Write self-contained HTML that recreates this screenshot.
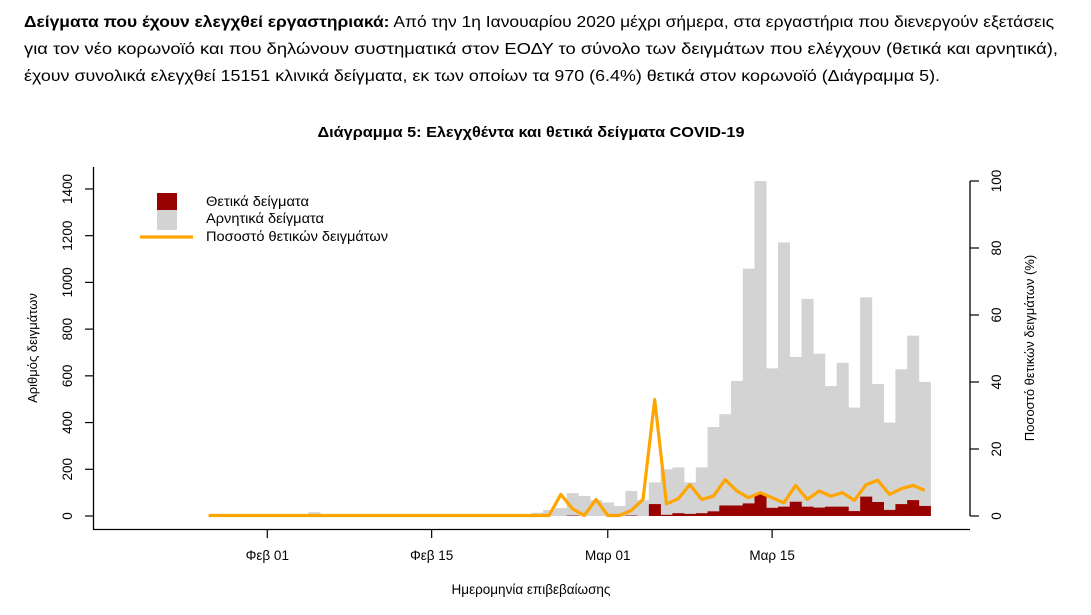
<!DOCTYPE html>
<html><head><meta charset="utf-8"><style>
html,body{margin:0;padding:0;background:#fff;}
svg{display:block;font-family:"Liberation Sans","DejaVu Sans",sans-serif;}
</style></head><body>
<svg id="s" width="1091" height="615" viewBox="0 0 1091 615" xmlns="http://www.w3.org/2000/svg">
<g font-size="16" fill="#000">
<text x="24" y="27" textLength="1030" lengthAdjust="spacingAndGlyphs"><tspan font-weight="bold">Δείγματα που έχουν ελεγχθεί εργαστηριακά:</tspan> Από την 1η Ιανουαρίου 2020 μέχρι σήμερα, στα εργαστήρια που διενεργούν εξετάσεις</text>
<text x="24" y="54" textLength="1034" lengthAdjust="spacingAndGlyphs">για τον νέο κορωνοϊό και που δηλώνουν συστηματικά στον ΕΟΔΥ το σύνολο των δειγμάτων που ελέγχουν (θετικά και αρνητικά),</text>
<text x="24" y="81" textLength="916" lengthAdjust="spacingAndGlyphs">έχουν συνολικά ελεγχθεί 15151 κλινικά δείγματα, εκ των οποίων τα 970 (6.4%) θετικά στον κορωνοϊό (Διάγραμμα 5).</text>
</g>
<text x="531" y="137" font-size="15" font-weight="bold" text-anchor="middle" textLength="427" lengthAdjust="spacingAndGlyphs">Διάγραμμα 5: Ελεγχθέντα και θετικά δείγματα COVID-19</text>
<g id="bars"></g>
<polyline id="pl" fill="none" stroke="#FFA500" stroke-width="3.2" stroke-linejoin="round"/>
<g stroke="#000" stroke-width="1.3" fill="none">
<path d="M93.5 167V529.5H970"/>
<path d="M970 181V516"/>
</g>
<g id="ax" font-size="13.5" fill="#000"></g>
<g font-size="13.5">
<rect x="157" y="193" width="20" height="17" fill="#990000"/>
<rect x="157" y="210" width="20" height="20" fill="#D3D3D3"/>
<line x1="140" y1="237" x2="193" y2="237" stroke="#FFA500" stroke-width="3.2"/>
<text x="206" y="206" textLength="103" lengthAdjust="spacingAndGlyphs">Θετικά δείγματα</text>
<text x="206" y="223" textLength="118" lengthAdjust="spacingAndGlyphs">Αρνητικά δείγματα</text>
<text x="206" y="241" textLength="182" lengthAdjust="spacingAndGlyphs">Ποσοστό θετικών δειγμάτων</text>
</g>
<text transform="translate(37,348) rotate(-90)" font-size="13" text-anchor="middle">Αριθμός δειγμάτων</text>
<text transform="translate(1034,348) rotate(-90)" font-size="13" text-anchor="middle">Ποσοστό θετικών δειγμάτων (%)</text>
<text x="531" y="594" font-size="13.5" text-anchor="middle">Ημερομηνία επιβεβαίωσης</text>
</svg>
<script>
var NS="http://www.w3.org/2000/svg";
function el(t,a,p){var e=document.createElementNS(NS,t);for(var k in a)e.setAttribute(k,a[k]);p.appendChild(e);return e;}
var x0=267.3,st=11.74,y0=516,ky=0.2336,kp=3.35;
var tot={4:16,22:8,23:14,24:26,25:34,26:98,27:86,28:68,29:58,30:43,31:107,32:68,33:144,34:200,35:208,36:144,37:208,38:381,39:436,40:578,41:1059,42:1434,43:632,44:1171,45:681,46:929,47:695,48:556,49:656,50:464,51:936,52:565,53:400,54:628,55:772,56:574};
var pos={26:2,31:2,33:51,34:5,35:12,36:9,37:12,38:20,39:45,40:45,41:54,42:94,43:35,44:40,45:61,46:40,47:36,48:40,49:40,50:21,51:83,52:60,53:26,54:51,55:68,56:43};
var pct={25:6.3,26:2,28:4.8,31:1.5,32:4.8,33:34.6,34:3.5,35:5,36:9.2,37:4.8,38:5.8,39:10.7,40:7.3,41:5.3,42:6.8,43:5.3,44:3.8,45:9,46:4.8,47:7.3,48:5.8,49:6.8,50:4.5,51:9.2,52:10.5,53:6.3,54:8,55:9,56:7.5};
var g=document.getElementById("bars");
for(var d in tot){var cx=x0+st*d,h=tot[d]*ky;el("rect",{x:cx-st/2,y:y0-h,width:st+0.3,height:h,fill:"#D3D3D3"},g);}
for(var d in pos){var cx=x0+st*d,h=pos[d]*ky;el("rect",{x:cx-st/2,y:y0-h,width:st+0.3,height:h,fill:"#990000"},g);}
var pts=[];for(var d=-5;d<=56;d++){var p=pct[d]||0;pts.push((x0+st*d).toFixed(1)+","+(y0-0.5-p*kp).toFixed(1));}
document.getElementById("pl").setAttribute("points",pts.join(" "));
var ax=document.getElementById("ax");
for(var v=0;v<=1400;v+=200){var y=y0-v*ky;el("line",{x1:85,y1:y,x2:93.5,y2:y,stroke:"#000","stroke-width":1.2},ax);var t=el("text",{transform:"translate(72,"+y+") rotate(-90)","text-anchor":"middle"},ax);t.textContent=v;}
for(var v=0;v<=100;v+=20){var y=y0-v*kp;el("line",{x1:970,y1:y,x2:979,y2:y,stroke:"#000","stroke-width":1.2},ax);var t=el("text",{transform:"translate(1001,"+y+") rotate(-90)","text-anchor":"middle"},ax);t.textContent=v;}
var L=[[0,"Φεβ 01"],[14,"Φεβ 15"],[29,"Μαρ 01"],[43,"Μαρ 15"]];
L.forEach(function(a){var x=x0+st*a[0];el("line",{x1:x,y1:529.5,x2:x,y2:538,stroke:"#000","stroke-width":1.2},ax);var t=el("text",{x:x,y:560,"text-anchor":"middle"},ax);t.textContent=a[1];});
</script>
</body></html>
